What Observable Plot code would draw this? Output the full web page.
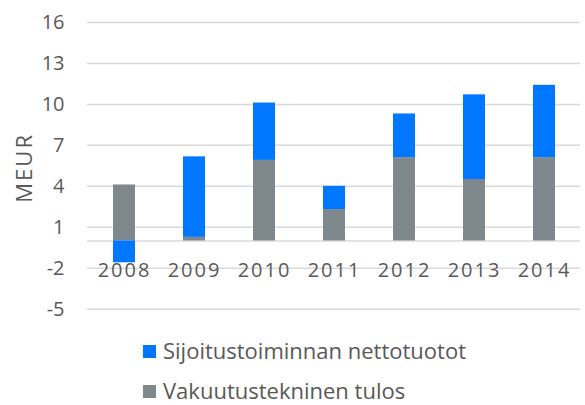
<!DOCTYPE html>
<html>
<head>
<meta charset="utf-8">
<script src="https://cdn.jsdelivr.net/npm/d3@7"></script>
<script src="https://cdn.jsdelivr.net/npm/@observablehq/plot@0.6"></script>
<style>
  body { margin: 0; background: #fff; font-family: "Open Sans", sans-serif; overflow: hidden; }
  #chart { width: 585px; height: 330px; }
  .legend { position: relative; height: 75px; color: #595959; font-size: 22px; line-height: 20px; }
  .legend .row { position: absolute; left: 143px; display: flex; align-items: flex-start; white-space: nowrap; }
  .legend .sw { width: 13px; height: 13px; margin-right: 7px; margin-top: 5px; }
  .yearlbl text { letter-spacing: 2px; }
  .meur text { letter-spacing: 2px; }
</style>
</head>
<body>
<div id="chart"></div>
<script>
const years = ["2008", "2009", "2010", "2011", "2012", "2013", "2014"];
const seriesNames = ["Vakuutustekninen tulos", "Sijoitustoiminnan nettotuotot"];
const vakuutustekninen = [4.1, 0.26, 5.9, 2.3, 6.1, 4.5, 6.1];
const sijoitus = [-1.6, 5.9, 4.2, 1.7, 3.2, 6.2, 5.3];
const yTicks = [16, 13, 10, 7, 4, 1, -2, -5];
const colors = ["#7f888d", "#0077ff"];

const data = [];
years.forEach((y, i) => {
  data.push({year: y, series: seriesNames[0], value: vakuutustekninen[i]});
  data.push({year: y, series: seriesNames[1], value: sijoitus[i]});
});

const plot = Plot.plot({
  width: 585,
  height: 330,
  marginTop: 22,
  marginBottom: 21.3,
  marginLeft: 87,
  marginRight: 5,
  style: {fontFamily: "Open Sans, sans-serif", color: "#595959", background: "#fff"},
  x: {domain: years, paddingInner: 0.69, paddingOuter: 0.345, axis: null},
  y: {domain: [-5, 16], ticks: yTicks, label: null},
  color: {domain: seriesNames, range: colors},
  marks: [
    Plot.gridY(yTicks, {stroke: "#d9d9d9", strokeOpacity: 1, strokeWidth: 1.5}),
    Plot.ruleY([0], {stroke: "#d9d9d9", strokeWidth: 1.5}),
    Plot.axisY(yTicks, {tickSize: 0, tickPadding: 23, fontSize: 20, label: null, fill: "#595959",
      tickFormat: d => String(d)}),
    Plot.barY(data, Plot.stackY({x: "year", y: "value", fill: "series", order: seriesNames})),
    Plot.text(years, {x: d => d, y: () => 0, dy: 30, fontSize: 20, fill: "#595959", text: d => d, className: "yearlbl"}),
    Plot.text(["MEUR"], {frameAnchor: "left", textAnchor: "middle", dx: -63, dy: 2, rotate: -90, fontSize: 22, fill: "#595959", text: d => d, className: "meur"})
  ]
});
document.getElementById("chart").appendChild(plot);

const legend = document.createElement("div");
legend.className = "legend";
[[seriesNames[1], colors[1], 10], [seriesNames[0], colors[0], 50]].forEach(([name, col, top]) => {
  const row = document.createElement("div");
  row.className = "row";
  row.style.top = top + "px";
  const sw = document.createElement("div");
  sw.className = "sw";
  sw.style.background = col;
  const t = document.createElement("span");
  t.textContent = name;
  row.appendChild(sw); row.appendChild(t);
  legend.appendChild(row);
});
document.body.appendChild(legend);
</script>
</body>
</html>
